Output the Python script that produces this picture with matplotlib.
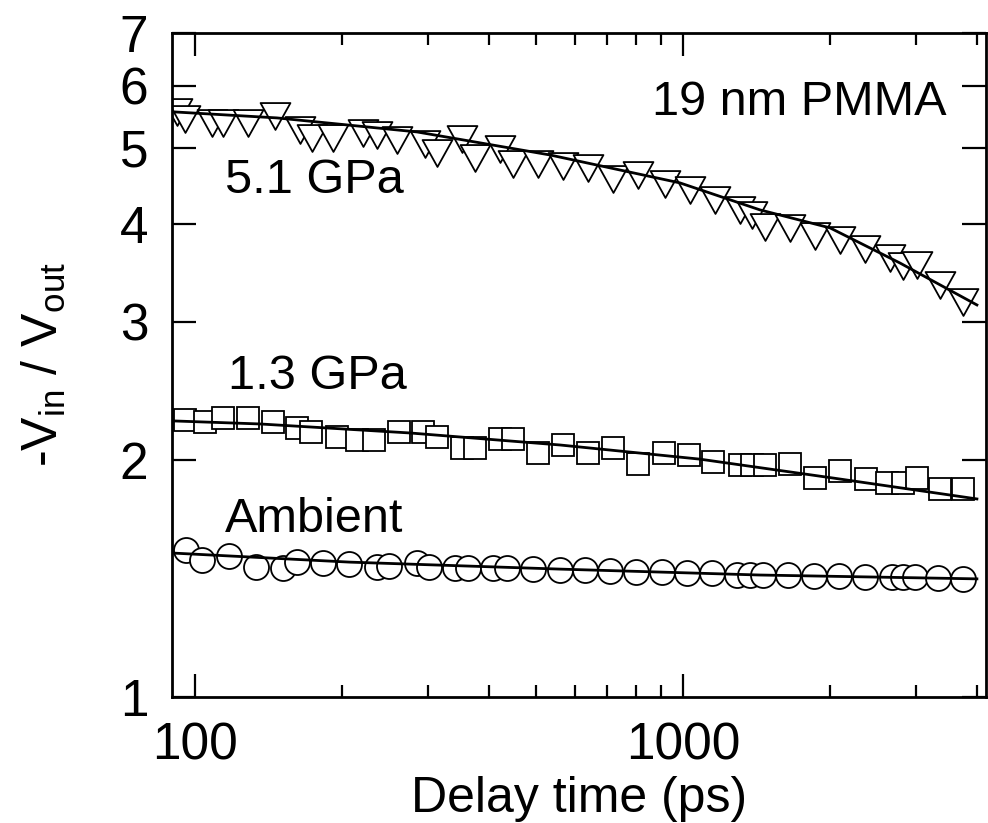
import matplotlib
matplotlib.use("Agg")
import matplotlib.pyplot as plt
from matplotlib.path import Path
from matplotlib.ticker import FixedLocator, NullFormatter, FixedFormatter

plt.rcParams['font.family'] = ['Liberation Sans', 'DejaVu Sans']
plt.rcParams['mathtext.default'] = 'regular'

# 5.1 GPa (triangles)
t_hi = [91.9, 95.4, 108.3, 114.1, 128.4, 145.8, 164.1, 173.7, 191.8, 221.0,
        236.0, 259.4, 296.0, 313.3, 352.5, 374.8, 421.7, 448.3, 504.6, 567.7,
        638.9, 718.9, 808.8, 918.7, 1033.5, 1163, 1308.6, 1385, 1472, 1657,
        1864, 2097, 2360, 2656, 2823, 3016, 3361, 3749]
v_hi = [5.56, 5.44, 5.38, 5.38, 5.38, 5.49, 5.27, 5.15, 5.15, 5.22,
        5.19, 5.12, 5.06, 4.92, 5.13, 4.85, 4.98, 4.77, 4.77, 4.74,
        4.71, 4.56, 4.62, 4.50, 4.42, 4.29, 4.17, 4.11, 3.96, 3.95,
        3.86, 3.82, 3.71, 3.62, 3.53, 3.55, 3.34, 3.18]
fit_t_hi = [90.1, 147.2, 285.1, 534, 986, 1438, 2001, 2784, 4004]
fit_v_hi = [5.555, 5.457, 5.237, 4.895, 4.510, 4.167, 3.953, 3.566, 3.153]

# 1.3 GPa (squares)
t_mid = [95.4, 104.8, 114.1, 128.4, 144.5, 161.8, 172.9, 195.4, 214.8, 232.7,
         261.8, 293.3, 313.3, 352.5, 374.8, 421.7, 448.3, 504.6, 567.7, 638.9,
         718.9, 808.8, 914, 1029, 1152, 1309, 1385, 1472, 1657, 1864,
         2097, 2371, 2618, 2823, 3016, 3361, 3749]
v_mid = [2.25, 2.24, 2.26, 2.26, 2.24, 2.20, 2.17, 2.14, 2.12, 2.12,
         2.17, 2.17, 2.14, 2.07, 2.07, 2.13, 2.13, 2.04, 2.09, 2.04,
         2.07, 1.98, 2.04, 2.03, 1.99, 1.97, 1.97, 1.97, 1.98, 1.90,
         1.94, 1.89, 1.87, 1.87, 1.90, 1.84, 1.84]
fit_t_mid = [90.1, 135.9, 275.8, 559.8, 1083, 2029, 4004]
fit_v_mid = [2.244, 2.224, 2.166, 2.091, 2.006, 1.898, 1.785]

# Ambient (circles)
t_amb = [95.9, 103.4, 117.4, 133.4, 151.4, 161.8, 182.9, 206.8, 236.0, 249.7,
         285.1, 301.7, 341.1, 362.6, 408.1, 435.9, 492.8, 559.8, 630, 708.7,
         801.3, 905.7, 1019, 1147, 1290, 1371, 1458, 1641, 1855, 2087,
         2360, 2681, 2823, 2988, 3331, 3749]
v_amb = [1.537, 1.492, 1.510, 1.462, 1.458, 1.483, 1.479, 1.475, 1.462, 1.466,
         1.479, 1.462, 1.458, 1.458, 1.458, 1.458, 1.453, 1.449, 1.449, 1.445,
         1.441, 1.441, 1.437, 1.437, 1.428, 1.428, 1.428, 1.428, 1.424, 1.424,
         1.420, 1.420, 1.420, 1.420, 1.416, 1.412]
fit_t_amb = [90.1, 207.8, 559.8, 1438, 4004]
fit_v_amb = [1.523, 1.483, 1.453, 1.428, 1.412]

fig = plt.figure(figsize=(9.88, 8.23), dpi=100)
ax = fig.add_axes([0.1741, 0.1537, 0.8239, 0.8062])
ax.set_xscale('log')
ax.set_yscale('log')

# slightly flattened downward triangle
tri = Path([(-1, 0.9), (1, 0.9), (0, -0.9), (-1, 0.9)], closed=True)
ax.plot(t_hi, v_hi, ls='none', marker=tri, ms=21.5, mfc='white', mec='black', mew=1.3)
ax.plot(t_mid, v_mid, ls='none', marker='s', ms=16.5, mfc='white', mec='black', mew=1.3)
ax.plot(t_amb, v_amb, ls='none', marker='o', ms=18, mfc='white', mec='black', mew=1.3)

for xs, ys in [(fit_t_hi, fit_v_hi), (fit_t_mid, fit_v_mid), (fit_t_amb, fit_v_amb)]:
    ax.plot(xs, ys, color='black', lw=2, zorder=5)

ax.set_xlim(89.7, 4180)
ax.set_ylim(1, 7)

ax.xaxis.set_major_locator(FixedLocator([100, 1000]))
ax.xaxis.set_major_formatter(FixedFormatter(['100', '1000']))
ax.xaxis.set_minor_locator(FixedLocator([200, 300, 400, 500, 600, 700, 800, 900, 2000, 3000, 4000]))
ax.xaxis.set_minor_formatter(NullFormatter())
yt = [1, 2, 3, 4, 5, 6, 7]
ax.yaxis.set_major_locator(FixedLocator(yt))
ax.yaxis.set_major_formatter(FixedFormatter([str(v) for v in yt]))
ax.yaxis.set_minor_locator(FixedLocator([]))

ax.tick_params(axis='both', which='both', direction='in', top=True, right=True, width=1.6,
               labelsize=37)
ax.tick_params(axis='x', which='major', length=16.5, pad=18)
ax.tick_params(axis='x', which='minor', length=8.5)
ax.tick_params(axis='y', which='major', length=17, pad=17)
for s in ax.spines.values():
    s.set_linewidth(2)

ax.set_xlabel('Delay time (ps)', fontsize=36)
ax.set_ylabel('-V$_{in}$ / V$_{out}$', fontsize=36)
ax.xaxis.set_label_coords(0.5, -0.12)
ax.yaxis.set_label_coords(-0.128, 0.5)

ax.text(0.952, 0.876, '19 nm PMMA', transform=ax.transAxes, ha='right', va='baseline', fontsize=35)
ax.text(0.065, 0.759, '5.1 GPa', transform=ax.transAxes, ha='left', va='baseline', fontsize=35)
ax.text(0.069, 0.463, '1.3 GPa', transform=ax.transAxes, ha='left', va='baseline', fontsize=35)
ax.text(0.065, 0.248, 'Ambient', transform=ax.transAxes, ha='left', va='baseline', fontsize=35)

fig.savefig('out.png', dpi=100)
